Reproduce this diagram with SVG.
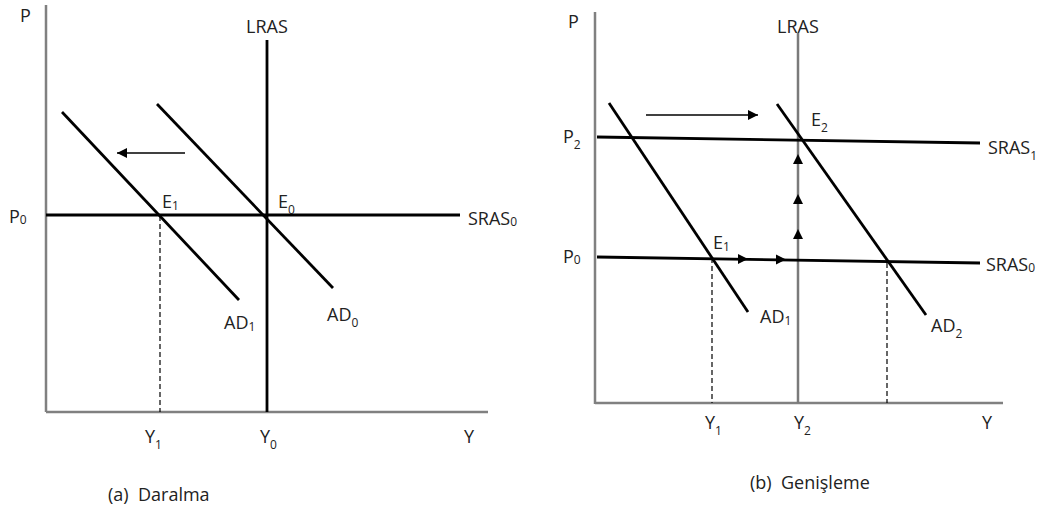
<svg xmlns="http://www.w3.org/2000/svg" width="1045" height="510" viewBox="0 0 1045 510">
<style>
text{font-family:"Open Sans","Liberation Sans",sans-serif;font-size:18px;fill:#222;white-space:pre}
.sub{font-size:12px}
.axis{stroke:#808080;stroke-width:2.5;fill:none}
.curve{stroke:#000;stroke-width:2.8;fill:none}
.lras2{stroke:#7a7a7a;stroke-width:2.5;fill:none}
.dash{stroke:#000;stroke-width:1.2;stroke-dasharray:5,3;fill:none}
.arr{stroke:#000;stroke-width:1.5;fill:none}
</style>
<defs>
<marker id="ah" viewBox="0 0 10 10" refX="10" refY="5" markerWidth="12" markerHeight="10" markerUnits="userSpaceOnUse" orient="auto"><path d="M0,0 L10,5 L0,10 z" fill="#000"/></marker>
<path id="tri" d="M-5,5 L5,0 L-5,-5 z" fill="#000"/>
</defs>
<rect width="1045" height="510" fill="#fff"/>

<g id="panel-a">
<g id="axes-a">
<line class="axis" x1="46" y1="5" x2="46" y2="412"/>
<line class="axis" x1="46" y1="412" x2="488" y2="412"/>
</g>
<g id="connectors-a">
<line id="lras-a" class="curve" x1="267" y1="40" x2="267" y2="412"/>
<line id="sras0-a" class="curve" x1="46" y1="215" x2="460" y2="215"/>
<line id="ad0-a" class="curve" x1="157" y1="104" x2="333" y2="288"/>
<line id="ad1-a" class="curve" x1="62" y1="112" x2="239" y2="300"/>
<line class="arr" x1="185" y1="153" x2="117" y2="153" marker-end="url(#ah)"/>
<line class="dash" x1="160" y1="216" x2="160" y2="412"/>
</g>
<g id="labels-a">
<text x="20" y="22">P</text>
<text x="246" y="33">LRAS</text>
<text x="9" y="223">P<tspan class="sub" dy="1">0</tspan></text>
<text x="162" y="208">E<tspan class="sub" dy="2">1</tspan></text>
<text x="278" y="208">E<tspan class="sub" dy="6">0</tspan></text>
<text x="468" y="225">SRAS<tspan class="sub" dy="1">0</tspan></text>
<text x="224" y="329">AD<tspan class="sub" dy="2">1</tspan></text>
<text x="327" y="321">AD<tspan class="sub" dy="6">0</tspan></text>
<text x="145" y="443">Y<tspan class="sub" dy="6">1</tspan></text>
<text x="260" y="443">Y<tspan class="sub" dy="6">0</tspan></text>
<text x="464" y="443">Y</text>
<text x="108" y="501">(a)  Daralma</text>
</g>
</g>

<g id="panel-b">
<g id="axes-b">
<line class="axis" x1="595" y1="12" x2="595" y2="404"/>
<line class="axis" x1="595" y1="403" x2="1003" y2="403"/>
</g>
<g id="connectors-b">
<line id="lras-b" class="lras2" x1="798" y1="33" x2="798" y2="403"/>
<line id="sras1-b" class="curve" x1="597" y1="137" x2="980" y2="143"/>
<line id="sras0-b" class="curve" x1="597" y1="257" x2="980" y2="263"/>
<line id="ad1-b" class="curve" x1="609" y1="103" x2="748" y2="312"/>
<line id="ad2-b" class="curve" x1="777" y1="104" x2="926" y2="315"/>
<line class="arr" x1="646" y1="115" x2="758" y2="115" marker-end="url(#ah)"/>
<line class="dash" x1="712" y1="258" x2="712" y2="403"/>
<line class="dash" x1="887" y1="263" x2="887" y2="403"/>
<use href="#tri" transform="translate(743,259)"/>
<use href="#tri" transform="translate(781,259.5)"/>
<use href="#tri" transform="translate(798,159) rotate(-90)"/>
<use href="#tri" transform="translate(798,199) rotate(-90)"/>
<use href="#tri" transform="translate(798,234) rotate(-90)"/>
</g>
<g id="labels-b">
<text x="568" y="28">P</text>
<text x="777" y="33">LRAS</text>
<text x="563" y="143">P<tspan class="sub" dy="6">2</tspan></text>
<text x="563" y="263">P<tspan class="sub" dy="1">0</tspan></text>
<text x="713" y="249">E<tspan class="sub" dy="2">1</tspan></text>
<text x="811" y="126">E<tspan class="sub" dy="6">2</tspan></text>
<text x="988" y="154">SRAS<tspan class="sub" dy="6">1</tspan></text>
<text x="986" y="271">SRAS<tspan class="sub" dy="1">0</tspan></text>
<text x="760" y="323">AD<tspan class="sub" dy="2">1</tspan></text>
<text x="931" y="332">AD<tspan class="sub" dy="6">2</tspan></text>
<text x="705" y="429">Y<tspan class="sub" dy="6">1</tspan></text>
<text x="794" y="429">Y<tspan class="sub" dy="6">2</tspan></text>
<text x="982" y="429">Y</text>
<text x="750" y="489">(b)  Genişleme</text>
</g>
</g>
</svg>
